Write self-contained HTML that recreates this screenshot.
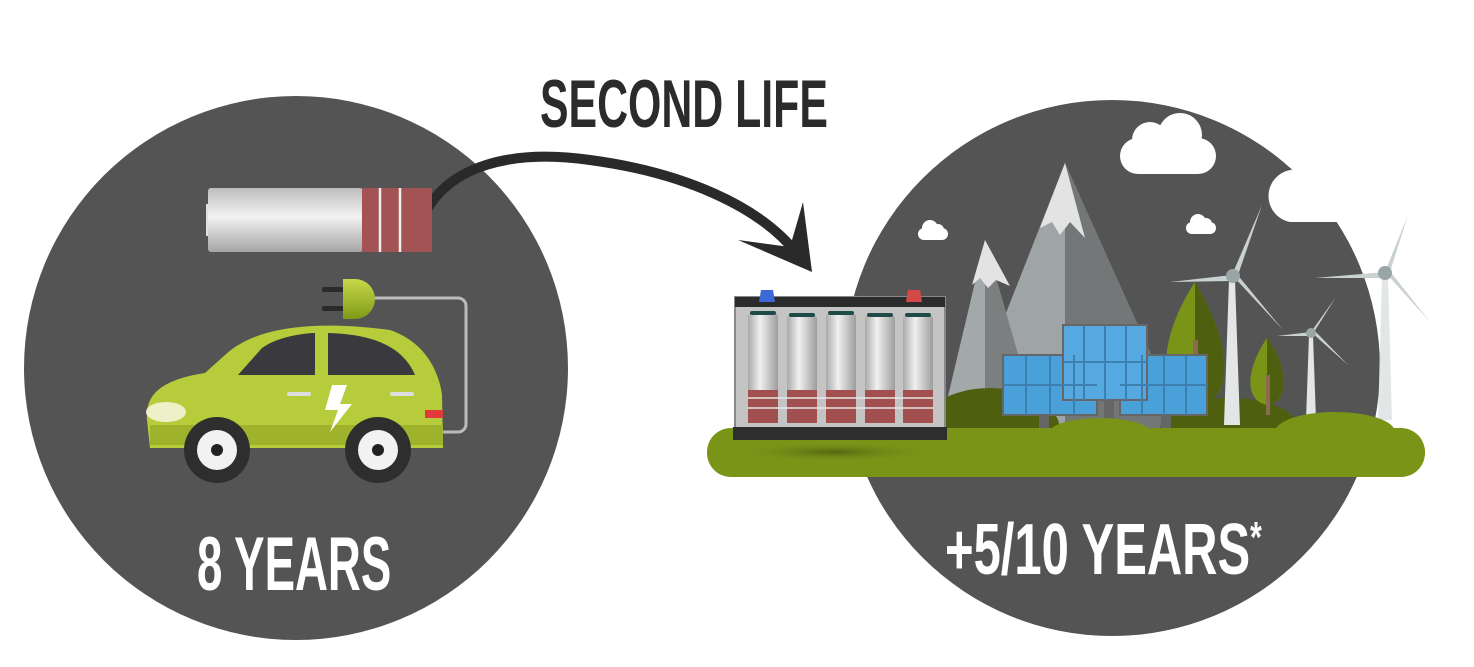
<!DOCTYPE html>
<html><head><meta charset="utf-8"><style>
html,body{margin:0;padding:0;background:#fff;width:1474px;height:667px;overflow:hidden}
svg{display:block}
text{font-family:"Liberation Sans",sans-serif;font-weight:bold}
</style></head><body>
<svg width="1474" height="667" viewBox="0 0 1474 667" xmlns="http://www.w3.org/2000/svg">
<defs>
<linearGradient id="cell" x1="0" x2="1"><stop offset="0" stop-color="#a9a9a9"/><stop offset=".4" stop-color="#f0f0f0"/><stop offset="1" stop-color="#9d9d9d"/></linearGradient>
<linearGradient id="bat" x1="0" y1="0" x2="0" y2="1"><stop offset="0" stop-color="#bdbdbd"/><stop offset=".45" stop-color="#f2f2f2"/><stop offset="1" stop-color="#a5a5a5"/></linearGradient>
<linearGradient id="plug" x1="0" y1="0" x2="0" y2="1"><stop offset="0" stop-color="#c8d84a"/><stop offset="1" stop-color="#7f9a18"/></linearGradient>
<radialGradient id="shadow"><stop offset="0" stop-color="#4a5a10" stop-opacity=".8"/><stop offset="1" stop-color="#7a9418" stop-opacity="0"/></radialGradient>
</defs>
<circle cx="296" cy="368" r="272" fill="#545454"/>
<circle cx="1112" cy="368" r="268" fill="#545454"/>
<path d="M1290 222 h184 v-60 h-130 a24 24 0 0 0 -44 8 a26 26 0 0 0 -10 52z" fill="#fff"/>
<rect x="1120" y="138" width="96" height="36" rx="18" fill="#fff"/>
<circle cx="1150" cy="140" r="18" fill="#fff"/><circle cx="1180" cy="135" r="22" fill="#fff"/>
<g fill="#fff"><rect x="918" y="228" width="30" height="12" rx="6"/><circle cx="930" cy="228" r="8"/><circle cx="938" cy="230" r="6"/>
<rect x="1186" y="222" width="30" height="12" rx="6"/><circle cx="1198" cy="222" r="8"/><circle cx="1206" cy="224" r="6"/></g>
<polygon points="1065,163 960,430 1185,430" fill="#9fa5a7"/>
<polygon points="1065,163 1065,430 1185,430" fill="#737778"/>
<polygon points="1065,163 1040,228 1052,222 1060,235 1070,222 1085,238" fill="#e3e3e3"/>
<polygon points="985,240 940,430 1040,430" fill="#a3a8aa"/>
<polygon points="985,240 985,430 1040,430" fill="#7b7f80"/>
<polygon points="985,240 972,285 980,278 988,288 996,280 1010,286" fill="#e3e3e3"/>
<ellipse cx="990" cy="430" rx="70" ry="42" fill="#4e6010"/>
<ellipse cx="1230" cy="430" rx="70" ry="32" fill="#4e6010"/>
<path d="M1195 282 C1170 320 1160 360 1170 385 C1180 410 1215 410 1222 385 C1230 355 1215 315 1195 282z" fill="#7a9418"/>
<path d="M1195 282 C1215 315 1230 355 1222 385 C1215 405 1200 408 1195 408z" fill="#4e6010"/>
<rect x="1193" y="340" width="5" height="60" fill="#8a6a50"/>
<path d="M1267 338 C1252 360 1245 385 1255 398 C1265 410 1280 405 1283 390 C1286 372 1278 352 1267 338z" fill="#7a9418"/>
<path d="M1267 338 C1278 352 1286 372 1283 390 C1280 402 1272 405 1267 405z" fill="#4e6010"/>
<rect x="1266" y="375" width="4" height="40" fill="#8a6a50"/>
<g>
<polygon points="1229,280 1235,280 1240,425 1224,425" fill="#e2e6e6"/>
<path d="M1232 275 L1262 205 L1238 275z M1232 275 L1170 282 L1232 281z M1232 275 L1283 330 L1236 273z" fill="#c9d1d1"/>
<circle cx="1233" cy="276" r="7" fill="#9aa5a5"/>
<polygon points="1382,278 1388,278 1392,420 1378,420" fill="#e2e6e6"/>
<path d="M1385 272 L1408 215 L1390 272z M1385 272 L1315 278 L1385 278z M1385 272 L1430 322 L1389 270z" fill="#c9d1d1"/>
<circle cx="1385" cy="273" r="7" fill="#9aa5a5"/>
<polygon points="1309,335 1313,335 1316,420 1306,420" fill="#e2e6e6"/>
<path d="M1311 332 L1336 297 L1314 332z M1311 332 L1277 336 L1311 336z M1311 332 L1348 365 L1314 330z" fill="#c9d1d1"/>
<circle cx="1311" cy="333" r="5" fill="#9aa5a5"/>
</g>
<g stroke="#666" stroke-width="2">
<rect x="1040" y="415" width="8" height="15" fill="#666"/><rect x="1105" y="400" width="8" height="30" fill="#666"/><rect x="1162" y="415" width="8" height="15" fill="#666"/>
<rect x="1003" y="355" width="94" height="60" fill="#4aa0d8"/>
<rect x="1120" y="355" width="87" height="60" fill="#4aa0d8"/>
<rect x="1063" y="325" width="84" height="75" fill="#55a8e0"/>
<path d="M1026 355v60M1050 355v60M1074 355v60M1003 385h94M1142 355v60M1164 355v60M1186 355v60M1120 385h87M1084 325v75M1105 325v75M1126 325v75M1063 362h84" fill="none" stroke="#3d7fae"/>
</g>
<ellipse cx="1335" cy="432" rx="60" ry="20" fill="#7a9418"/>
<ellipse cx="1100" cy="432" rx="50" ry="14" fill="#7a9418"/>
<rect x="707" y="428" width="718" height="49" rx="24" fill="#7a9418"/>
<ellipse cx="835" cy="452" rx="100" ry="10" fill="url(#shadow)"/>
<rect x="735" y="297" width="210" height="132" fill="#c4c4c4" stroke="#888" stroke-width="2"/>
<rect x="735" y="297" width="210" height="10" fill="#2b2b2b"/>
<polygon points="761,290 773,290 775,302 759,302" fill="#3d68d8"/>
<polygon points="908,290 920,290 922,302 906,302" fill="#d44848"/>
<g>
<rect x="748" y="313" width="30" height="110" rx="4" fill="url(#cell)"/>
<rect x="787" y="315" width="30" height="108" rx="4" fill="url(#cell)"/>
<rect x="826" y="313" width="30" height="110" rx="4" fill="url(#cell)"/>
<rect x="865" y="315" width="30" height="108" rx="4" fill="url(#cell)"/>
<rect x="903" y="315" width="30" height="108" rx="4" fill="url(#cell)"/>
<g fill="#a24f4f">
<rect x="748" y="390" width="30" height="33"/><rect x="787" y="390" width="30" height="33"/><rect x="826" y="390" width="30" height="33"/><rect x="865" y="390" width="30" height="33"/><rect x="903" y="390" width="30" height="33"/></g>
<path d="M748 398h185M748 408h185" stroke="#e6e6e6" stroke-width="1.5"/>
<g fill="#1f4a48"><rect x="750" y="311" width="26" height="4" rx="2"/><rect x="789" y="313" width="26" height="4" rx="2"/><rect x="828" y="311" width="26" height="4" rx="2"/><rect x="867" y="313" width="26" height="4" rx="2"/><rect x="905" y="313" width="26" height="4" rx="2"/></g>
</g>
<rect x="733" y="427" width="214" height="13" fill="#2e2e2e"/>
<path d="M418 230 C440 160 520 150 590 160 C680 172 760 205 798 255" fill="none" stroke="#2a2a2a" stroke-width="10" stroke-linecap="round"/>
<path d="M738 240 L812 272 L803 202 L790 247z" fill="#2a2a2a"/>
<rect x="206" y="204" width="12" height="32" fill="#e0e0e0"/>
<rect x="208" y="188" width="155" height="64" rx="3" fill="url(#bat)"/>
<rect x="362" y="188" width="70" height="64" fill="#a35353"/>
<path d="M380 188v64M400 188v64" stroke="#eee" stroke-width="2.5"/>
<path d="M372 298 H458 a8 8 0 0 1 8 8 V424 a8 8 0 0 1 -8 8 H440" fill="none" stroke="#bbb" stroke-width="3"/>
<rect x="322" y="287" width="22" height="5" rx="2" fill="#2a2a2a"/><rect x="322" y="306" width="22" height="5" rx="2" fill="#2a2a2a"/>
<path d="M343 279 h12 a19 19 0 0 1 0 40 h-12z" fill="url(#plug)"/>
<path d="M147 420 C145 395 160 380 205 373 L225 355 C260 322 330 322 390 330 C420 340 438 365 442 395 L443 448 L150 448z" fill="#b7cc3a"/>
<path d="M238 375 L262 348 C280 335 310 333 315 333 L315 375z" fill="#3a3a3e"/>
<path d="M328 333 C360 334 400 340 415 375 L328 375z" fill="#3a3a3e"/>
<path d="M150 425 h293 v20 h-293z" fill="#9fb22c"/>
<ellipse cx="166" cy="412" rx="20" ry="10" fill="#eef0c8"/>
<path d="M332 385 L347 385 L340 404 L352 404 L330 432 L338 410 L325 410z" fill="#fff"/>
<rect x="425" y="410" width="18" height="8" fill="#e03a3a"/>
<rect x="287" y="392" width="24" height="4" rx="2" fill="#ddd"/><rect x="390" y="392" width="24" height="4" rx="2" fill="#ddd"/>
<circle cx="217" cy="450" r="33" fill="#2e2e2e"/><circle cx="217" cy="450" r="20" fill="#f2f2f2"/><circle cx="217" cy="450" r="6" fill="#222"/>
<circle cx="378" cy="450" r="33" fill="#2e2e2e"/><circle cx="378" cy="450" r="20" fill="#f2f2f2"/><circle cx="378" cy="450" r="6" fill="#222"/>
<text x="540" y="127" font-size="68" fill="#2b2b2b" transform="translate(540 0) scale(0.63 1) translate(-540 0)">SECOND LIFE</text>
<text x="197" y="590" font-size="76" fill="#fff" transform="translate(197 0) scale(0.6 1) translate(-197 0)">8 YEARS</text>
<text x="945" y="574" font-size="72" fill="#fff" transform="translate(945 0) scale(0.68 1) translate(-945 0)">+5/10 YEARS<tspan font-size="44" dy="-22">*</tspan></text>
</svg>
</body></html>
